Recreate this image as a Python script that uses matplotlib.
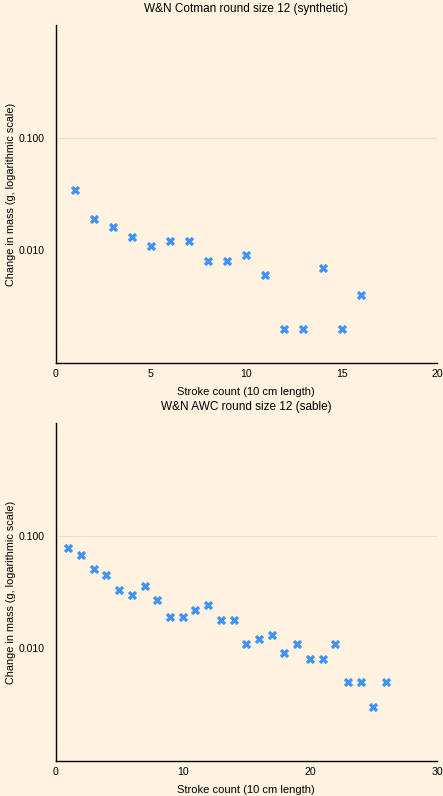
import matplotlib
matplotlib.use("Agg")
from matplotlib import pyplot as plt
from matplotlib.ticker import FixedLocator, FixedFormatter, NullLocator

plt.rcParams['font.family'] = ['Liberation Sans', 'DejaVu Sans']

bg = '#fdf3e0'
blue = '#3f93f5'

# Cotman (synthetic)
cotman_strokes = [1, 2, 3, 4, 5, 6, 7, 8, 9, 10, 11, 12, 13, 14, 15, 16]
cotman_mass = [0.034, 0.019, 0.016, 0.013, 0.011, 0.012, 0.012, 0.008,
               0.008, 0.009, 0.006, 0.002, 0.002, 0.007, 0.002, 0.004]

# AWC (sable)
awc_strokes = list(range(1, 27))
awc_mass = [0.077, 0.068, 0.051, 0.045, 0.033, 0.030, 0.036, 0.027, 0.019,
            0.019, 0.022, 0.024, 0.018, 0.018, 0.011, 0.012, 0.013, 0.009,
            0.011, 0.008, 0.008, 0.011, 0.005, 0.005, 0.003, 0.005]

y_ticks = [0.01, 0.1]
y_labels = ['0.010', '0.100']

fig = plt.figure(figsize=(4.43, 7.96), dpi=100, facecolor=bg)
W, H = 443, 796

panels = [
    (cotman_strokes, cotman_mass, 'W&N Cotman round size 12 (synthetic)',
     20, [0, 5, 10, 15, 20], (25, 363)),
    (awc_strokes, awc_mass, 'W&N AWC round size 12 (sable)',
     30, [0, 10, 20, 30], (423, 761)),
]

for xs, ys, title, xmax, xticks, (top, bottom) in panels:
    ax = fig.add_axes([55.5 / W, 1 - bottom / H, (437 - 55.5) / W, (bottom - top) / H])
    ax.set_facecolor(bg)
    ax.scatter(xs, ys, marker='X', s=45, color=blue, linewidths=0, zorder=3)
    ax.set_yscale('log')
    ax.set_ylim(0.001, 1)
    ax.set_xlim(0, xmax)
    ax.yaxis.set_major_locator(FixedLocator(y_ticks))
    ax.yaxis.set_major_formatter(FixedFormatter(y_labels))
    ax.yaxis.set_minor_locator(NullLocator())
    ax.set_xticks(xticks)
    ax.axhline(0.1, color='#e8dfcc', lw=0.8, zorder=1)
    ax.tick_params(length=0, labelsize=7.6)
    ax.tick_params(axis='y', pad=8)
    ax.tick_params(axis='x', pad=4)
    for s in ['top', 'right']:
        ax.spines[s].set_visible(False)
    for s in ['left', 'bottom']:
        ax.spines[s].set_linewidth(1.0)
    ax.set_title(title, fontsize=8.5, pad=9.5)
    ax.set_xlabel('Stroke count (10 cm length)', fontsize=8, labelpad=6)
    ax.set_ylabel('Change in mass (g, logarithmic scale)', fontsize=7.8, labelpad=2)

fig.savefig('out.png', dpi=100, facecolor=bg)
